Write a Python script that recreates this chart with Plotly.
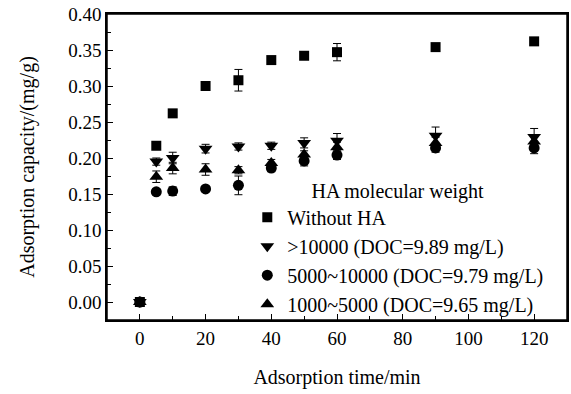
import plotly.graph_objects as go

time_min = [0, 5, 10, 20, 30, 40, 50, 60, 90, 120]

without_ha = [0.0, 0.217, 0.262, 0.300, 0.308, 0.336, 0.342, 0.347, 0.354, 0.362]
without_ha_err = [0.0, 0.003, 0.003, 0.003, 0.015, 0.005, 0.003, 0.012, 0.003, 0.005]

mw_gt10000 = [0.0, 0.195, 0.200, 0.213, 0.216, 0.217, 0.221, 0.224, 0.231, 0.229]
mw_gt10000_err = [0.0, 0.005, 0.008, 0.006, 0.005, 0.005, 0.007, 0.010, 0.012, 0.012]

mw_5000_10000 = [0.0, 0.153, 0.154, 0.157, 0.162, 0.186, 0.196, 0.204, 0.214, 0.214]
mw_5000_10000_err = [0.0, 0.004, 0.006, 0.003, 0.013, 0.005, 0.007, 0.006, 0.006, 0.008]

mw_1000_5000 = [0.0, 0.174, 0.186, 0.184, 0.183, 0.193, 0.205, 0.215, 0.221, 0.223]
mw_1000_5000_err = [0.0, 0.008, 0.008, 0.008, 0.005, 0.005, 0.005, 0.007, 0.008, 0.008]

series_names = ["Without HA", ">10000 (DOC=9.89 mg/L)",
                "5000~10000 (DOC=9.79 mg/L)", "1000~5000 (DOC=9.65 mg/L)"]
x_ticks = [0, 20, 40, 60, 80, 100, 120]
y_ticks = [0.00, 0.05, 0.10, 0.15, 0.20, 0.25, 0.30, 0.35, 0.40]

FONT = "Liberation Serif, Times New Roman, serif"

fig = go.Figure()
specs = [
    (without_ha, without_ha_err, "square", 10),
    (mw_gt10000, mw_gt10000_err, "triangle-down", 12),
    (mw_5000_10000, mw_5000_10000_err, "circle", 11),
    (mw_1000_5000, mw_1000_5000_err, "triangle-up", 12),
]
for name, (vals, errs, sym, size) in zip(series_names, specs):
    fig.add_trace(go.Scatter(
        x=time_min, y=vals, mode="markers", name=name,
        marker=dict(symbol=sym, size=size, color="black"),
        error_y=dict(type="data", array=errs, visible=True,
                     color="black", thickness=1, width=4),
    ))

fig.update_layout(
    width=571, height=394,
    margin=dict(l=107, r=4, t=14, b=74, autoexpand=False),
    paper_bgcolor="white", plot_bgcolor="white",
    font=dict(family=FONT, size=19, color="black"),
    showlegend=True,
    legend=dict(
        x=0.305, xanchor="left", y=-0.012, yanchor="bottom",
        bgcolor="rgba(0,0,0,0)", borderwidth=0,
        font=dict(family=FONT, size=20, color="black"),
        title=dict(text="HA molecular weight", side="top center",
                   font=dict(family=FONT, size=20, color="black")),
        tracegroupgap=0, itemsizing="trace",
    ),
    shapes=[dict(type="rect", xref="paper", yref="paper", x0=0, y0=0, x1=1, y1=1,
                 line=dict(color="black", width=1.5), fillcolor="rgba(0,0,0,0)",
                 layer="above")],
)
fig.update_xaxes(
    range=[-10, 130], tickvals=x_ticks, ticktext=[str(v) for v in x_ticks],
    ticks="inside", ticklen=6, tickwidth=1, tickcolor="black",
    minor=dict(tickvals=[10, 30, 50, 70, 90, 110], ticks="inside", ticklen=4,
               tickcolor="black", tickwidth=1),
    showline=True, linecolor="black", linewidth=1.5, mirror=True,
    showgrid=False, zeroline=False,
    title=dict(text="Adsorption time/min", standoff=22,
               font=dict(family=FONT, size=20)),
    tickfont=dict(family=FONT, size=19),
)
fig.update_yaxes(
    range=[-0.025, 0.40], tickvals=y_ticks, ticktext=[f"{v:.2f}" for v in y_ticks],
    ticks="inside", ticklen=6, tickwidth=1, tickcolor="black",
    minor=dict(tickvals=[-0.025 + 0.05 * i for i in range(0, 9)], ticks="inside",
               ticklen=4, tickcolor="black", tickwidth=1),
    showline=True, linecolor="black", linewidth=1.5, mirror=True,
    showgrid=False, zeroline=False,
    title=dict(text="Adsorption capacity/(mg/g)", standoff=28,
               font=dict(family=FONT, size=20)),
    tickfont=dict(family=FONT, size=19),
)

fig.write_html("out.html", config={"displayModeBar": False},
               post_script="document.body.style.margin='0';document.body.style.padding='0';")
